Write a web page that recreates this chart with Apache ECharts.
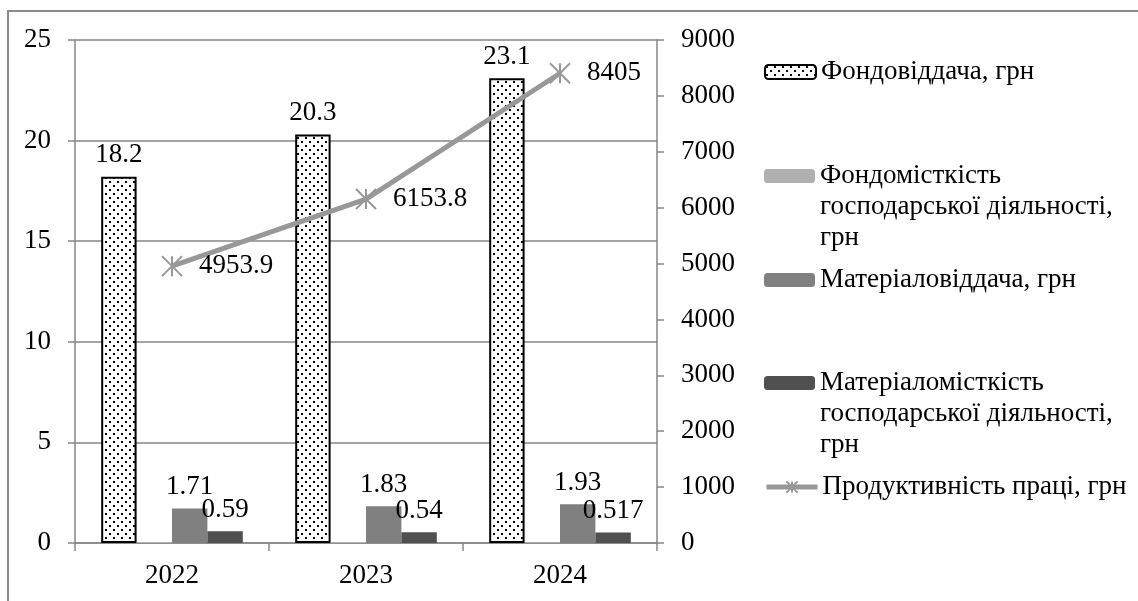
<!DOCTYPE html>
<html>
<head>
<meta charset="utf-8">
<script src="https://cdn.jsdelivr.net/npm/echarts@6/dist/echarts.min.js"></script>
<style>
html,body{margin:0;padding:0;background:#fff;}
#chart{width:1138px;height:601px;}
</style>
</head>
<body>
<div id="chart"></div>
<script>
const categories = ['2022', '2023', '2024'];
const fondovidacha = [18.2, 20.3, 23.1];
const fondomistkist = [0.055, 0.049, 0.043];
const materialovidacha = [1.71, 1.83, 1.93];
const materialomistkist = [0.59, 0.54, 0.517];
const productivity = [4953.9, 6153.8, 8405];
const leftTicks = {min: 0, max: 25, interval: 5};
const rightTicks = {min: 0, max: 9000, interval: 1000};

const names = [
  'Фондовіддача, грн',
  'Фондомісткість господарської діяльності, грн',
  'Матеріаловіддача, грн',
  'Матеріаломісткість господарської діяльності, грн',
  'Продуктивність праці, грн'
];
const legendLines = {};
legendLines[names[0]] = ['Фондовіддача, грн'];
legendLines[names[1]] = ['Фондомісткість', 'господарської діяльності,', 'грн'];
legendLines[names[2]] = ['Матеріаловіддача, грн'];
legendLines[names[3]] = ['Матеріаломісткість', 'господарської діяльності,', 'грн'];
legendLines[names[4]] = ['Продуктивність праці, грн'];

const FONT = 'Liberation Serif';
const FS = 27;
const LH = 31;
const AX = '#868686';
const LINE_C = '#989898';

// dotted pattern
const pc = document.createElement('canvas');
pc.width = 8; pc.height = 8;
const ctx = pc.getContext('2d');
ctx.fillStyle = '#fff'; ctx.fillRect(0, 0, 8, 8);
ctx.fillStyle = '#000';
ctx.fillRect(1, 1, 2, 2);
ctx.fillRect(5, 5, 2, 2);

const chart = echarts.init(document.getElementById('chart'), null, {renderer: 'canvas'});

function mkLegend(name, centerY, extra) {
  const lines = legendLines[name];
  const n = lines.length;
  const padded = new Array(n - 1).fill('').concat(lines);
  const total = padded.length;
  return Object.assign({
    data: [name],
    orient: 'vertical',
    left: 764,
    top: centerY - (total * LH) / 2,
    padding: 0,
    itemWidth: 51,
    itemHeight: 14,
    formatter: () => padded.join('\n'),
    textStyle: {fontFamily: FONT, fontSize: FS, lineHeight: LH, color: '#000'}
  }, extra || {});
}

const plain = v => String(typeof v === 'object' ? v.value : v);
const labelBase = {show: true, position: 'top', distance: 8, color: '#000', fontFamily: FONT, fontSize: FS};

chart.setOption({
  animation: false,
  backgroundColor: '#fff',
  textStyle: {fontFamily: FONT},
  graphic: [{
    type: 'rect', shape: {x: 8, y: 11, width: 1400, height: 800},
    style: {fill: 'none', stroke: '#8a8a8a', lineWidth: 2}, z: -10
  }],
  grid: {left: 75, right: 481, top: 40, bottom: 58, containLabel: false},
  legend: [
    mkLegend(names[0], 72),
    mkLegend(names[1], 176),
    mkLegend(names[2], 280),
    mkLegend(names[3], 383),
    mkLegend(names[4], 487, {lineStyle: {width: 5, color: LINE_C}, itemStyle: {color: LINE_C, borderColor: LINE_C, borderWidth: 2}})
  ],
  xAxis: {
    type: 'category', data: categories,
    axisLine: {lineStyle: {color: AX, width: 1.5}},
    axisTick: {show: true, length: 8, lineStyle: {color: AX, width: 1.5}},
    axisLabel: {color: '#000', fontFamily: FONT, fontSize: FS, margin: 19}
  },
  yAxis: [{
    type: 'value', min: leftTicks.min, max: leftTicks.max, interval: leftTicks.interval,
    axisLine: {show: true, lineStyle: {color: AX, width: 1.5}},
    axisTick: {show: true, length: 7, lineStyle: {color: AX, width: 1.5}},
    splitLine: {show: true, lineStyle: {color: AX, width: 1.5}},
    axisLabel: {color: '#000', fontFamily: FONT, fontSize: FS, margin: 24, formatter: plain}
  }, {
    type: 'value', min: rightTicks.min, max: rightTicks.max, interval: rightTicks.interval,
    axisLine: {show: true, lineStyle: {color: AX, width: 1.5}},
    axisTick: {show: true, length: 7, lineStyle: {color: AX, width: 1.5}},
    splitLine: {show: false},
    axisLabel: {color: '#000', fontFamily: FONT, fontSize: FS, margin: 24, align: 'left', formatter: plain}
  }],
  series: [{
    name: names[0], type: 'bar', data: fondovidacha,
    barGap: '0%', barCategoryGap: '27%',
    itemStyle: {color: {image: pc, repeat: 'repeat'}, borderColor: '#000', borderWidth: 2},
    label: Object.assign({}, labelBase, {formatter: p => plain(p.value)})
  }, {
    name: names[1], type: 'bar', data: fondomistkist,
    itemStyle: {color: '#b0b0b0'}
  }, {
    name: names[2], type: 'bar', data: materialovidacha,
    itemStyle: {color: '#808080'},
    label: Object.assign({}, labelBase, {formatter: p => plain(p.value)})
  }, {
    name: names[3], type: 'bar', data: materialomistkist,
    itemStyle: {color: '#505050'},
    label: Object.assign({}, labelBase, {formatter: p => plain(p.value)})
  }, {
    name: names[4], type: 'line', yAxisIndex: 1, data: productivity,
    z: 5,
    symbol: 'path://M0,0L10,10M10,0L0,10M5,0L5,10',
    symbolSize: 20,
    lineStyle: {color: LINE_C, width: 5},
    itemStyle: {color: LINE_C, borderColor: LINE_C, borderWidth: 2},
    label: {show: true, position: 'right', distance: 16, color: '#000', fontFamily: FONT, fontSize: FS, formatter: p => plain(p.value)}
  }]
});
</script>
</body>
</html>
